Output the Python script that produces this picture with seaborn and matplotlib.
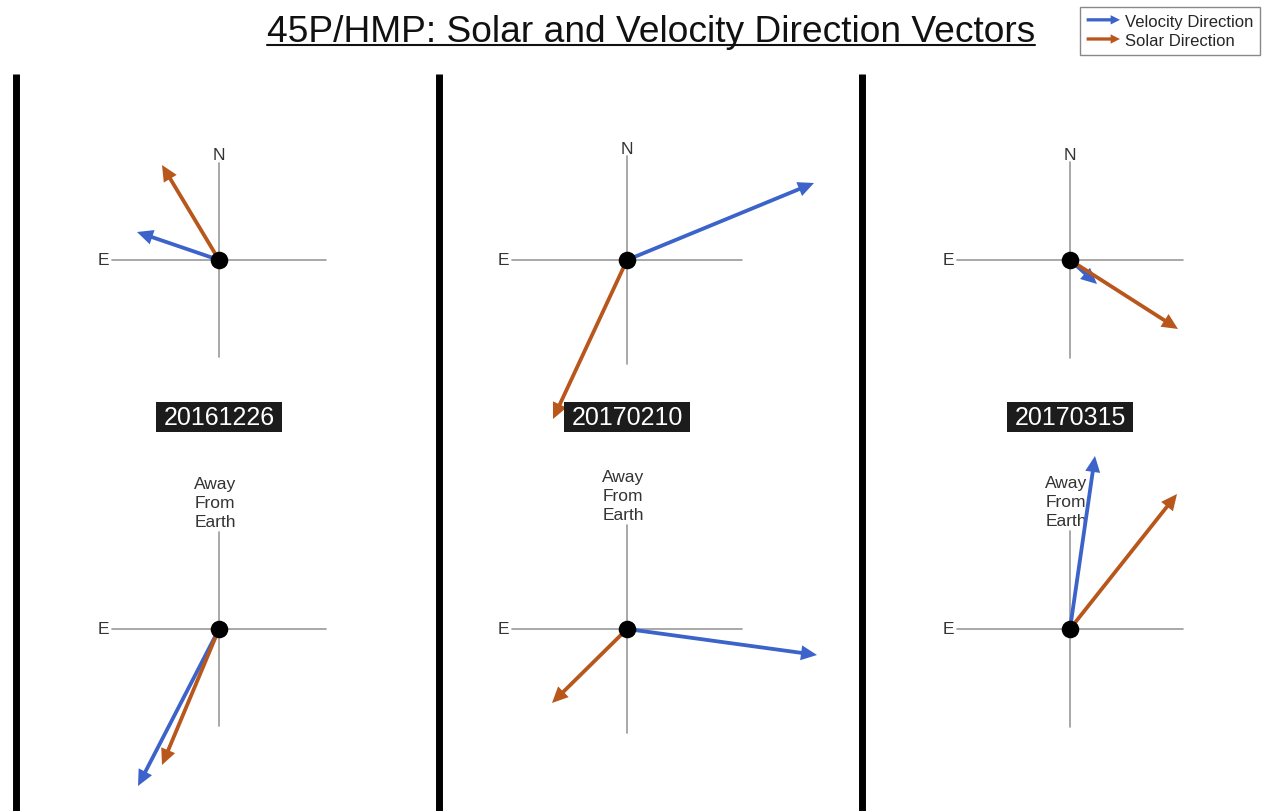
import numpy as np
import pandas as pd
import seaborn as sns
import matplotlib.pyplot as plt
import matplotlib.patches as mpatches
from matplotlib.legend_handler import HandlerPatch

# observation dates, one panel each
dates = ["20161226", "20170210", "20170315"]

# top row: plane of sky (east, north components)
vel_sky_east = [82, -187, -27]
vel_sky_north = [28, 77, -24]
sun_sky_east = [57, 74, -108]
sun_sky_north = [95, -159, -69]

# bottom row: east / away-from-earth plane
vel_los_east = [81, -190, -25]
vel_los_away = [-157, -26, 173]
sun_los_east = [57, 75, -107]
sun_los_away = [-136, -74, 135]

title = "45P/HMP: Solar and Velocity Direction Vectors"
legend_labels = ["Velocity Direction", "Solar Direction"]

BLUE = "#3b63c9"
ORANGE = "#b8561b"
GRAY = "#9a9a9a"

W, H = 1286, 812

# layout (pixel units)
panel_x = [219, 627, 1070]
arm_x = [107, 115, 113]
arm_y = [97, 104, 98]
row_y = [261, 630]
divider_x = [16, 439, 862]
date_y = 418


class ArrowHandler(HandlerPatch):
    def create_artists(self, legend, orig_handle, xdescent, ydescent,
                       width, height, fontsize, trans):
        p = mpatches.FancyArrow(-xdescent, height / 2 - ydescent, width, 0,
                                width=height * 0.28, head_width=height * 0.8,
                                head_length=height * 0.8,
                                length_includes_head=True,
                                color=orig_handle.get_facecolor(), lw=0)
        p.set_transform(trans)
        return [p]


def draw_arrow(ax, x0, y0, x1, y1, color):
    ax.arrow(x0, y0, x1 - x0, y1 - y0, width=3.8, head_width=15,
             head_length=16, length_includes_head=True, color=color,
             lw=0, zorder=3)


sns.set_theme(style="white")
plt.rcParams['font.family'] = ['Liberation Sans', 'DejaVu Sans']

fig = plt.figure(figsize=(W / 100, H / 100), dpi=100)
ax = fig.add_axes([0, 0, 1, 1])

# thick panel dividers
for dx in divider_x:
    ax.plot([dx, dx], [75, H], color="black", lw=5, solid_capstyle="butt")

centers = []
date_texts = []
for i in range(3):
    cx = panel_x[i]
    for r, cy in enumerate(row_y):
        ax.plot([cx - arm_x[i], cx + arm_x[i]], [cy, cy], color=GRAY, lw=1.2, zorder=1)
        ax.plot([cx, cx], [cy - arm_y[i], cy + arm_y[i]], color=GRAY, lw=1.2, zorder=1)
        ax.text(cx - arm_x[i] - 9, cy, "E", ha="center", va="center",
                fontsize=12.5, color="#333333")
        if r == 0:
            ax.text(cx, cy - arm_y[i] - 8, "N", ha="center", va="center",
                    fontsize=12.5, color="#333333")
            draw_arrow(ax, cx, cy, cx - vel_sky_east[i], cy - vel_sky_north[i], BLUE)
            draw_arrow(ax, cx, cy, cx - sun_sky_east[i], cy - sun_sky_north[i], ORANGE)
        else:
            ax.text(cx - 4, cy - arm_y[i] - 3, "Away\nFrom\nEarth", ha="center",
                    va="bottom", fontsize=12.5, color="#333333", linespacing=1.35)
            draw_arrow(ax, cx, cy, cx - vel_los_east[i], cy - vel_los_away[i], BLUE)
            draw_arrow(ax, cx, cy, cx - sun_los_east[i], cy - sun_los_away[i], ORANGE)
        centers.append((cx, cy))

    date_texts.append(ax.text(cx, date_y, dates[i], ha="center", va="center",
                              fontsize=18, color="white", zorder=7))

cdf = pd.DataFrame(centers, columns=["x", "y"])
sns.scatterplot(data=cdf, x="x", y="y", s=160, color="black", ax=ax,
                zorder=5, legend=False, linewidth=0)
ax.set_xlim(0, W)
ax.set_ylim(H, 0)
ax.axis('off')

# underlined title
t = ax.text(651, 32, title, ha="center", va="center", fontsize=26.7, color="#111111")
fig.canvas.draw()
renderer = fig.canvas.get_renderer()
bb = t.get_window_extent(renderer)
uy = H - (bb.y0 + 4)
ax.plot([bb.x0, bb.x1], [uy, uy], color="#111111", lw=1.5)

# dark boxes behind the date labels
for dt in date_texts:
    b = dt.get_window_extent(renderer)
    ax.add_patch(mpatches.Rectangle((b.x0 - 7, date_y - 15), b.width + 14, 30,
                                    fc="#1c1c1c", ec="none", zorder=6))

handles = [mpatches.Patch(color=BLUE, label=legend_labels[0]),
           mpatches.Patch(color=ORANGE, label=legend_labels[1])]
fig.legend(handles=handles, loc="upper right",
           bbox_to_anchor=(1260 / W, 1 - 8 / H), borderaxespad=0,
           fontsize=12, frameon=True, fancybox=False, edgecolor="#888888",
           framealpha=1, handlelength=2.0, handletextpad=0.3,
           labelspacing=0.25, borderpad=0.4,
           handler_map={mpatches.Patch: ArrowHandler()})

fig.savefig("out.png", dpi=100)
